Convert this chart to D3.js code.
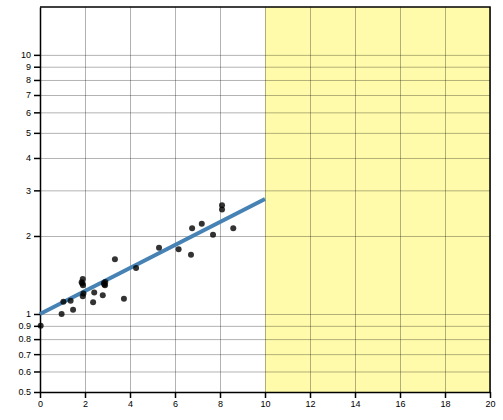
<!DOCTYPE html>
<html>
<head>
<meta charset="utf-8">
<script src="https://cdn.jsdelivr.net/npm/d3@7"></script>
<style>
  body { margin: 0; background: #fff; }
  svg { display: block; font-family: "DejaVu Sans", sans-serif; }
  .axis text { font-size: 9px; fill: #000; }
  .grid line { stroke: #000; stroke-opacity: 0.3; }
</style>
</head>
<body>
<div id="chart"></div>
<script>
// data
const xs = [0.03, 0.96, 1.04, 1.36, 1.47, 1.85, 1.9, 1.91, 1.93, 1.9, 1.88, 2.36, 2.41, 2.79, 2.84, 2.89, 2.9, 2.86, 3.33, 3.73, 4.27, 5.29, 6.16, 6.71, 6.76, 7.19, 7.69, 8.09, 8.09, 8.59];
const ys = [0.9, 1.0, 1.116, 1.125, 1.039, 1.325, 1.365, 1.29, 1.2, 1.17, 1.31, 1.11, 1.21, 1.18, 1.314, 1.29, 1.33, 1.3, 1.626, 1.146, 1.505, 1.8, 1.778, 1.694, 2.14, 2.23, 2.02, 2.63, 2.53, 2.14];
const fitX = [0, 10];
const fitY = [1, 2.78];
const shadeX = [10, 20];
const xTicks = [0, 2, 4, 6, 8, 10, 12, 14, 16, 18, 20];
const yTicks = [0.5, 0.6, 0.7, 0.8, 0.9, 1, 2, 3, 4, 5, 6, 7, 8, 9, 10];

const width = 503;
const height = 420;
const margin = { top: 7, right: 13, bottom: 28, left: 40 };

const svg = d3.select("#chart").append("svg")
  .attr("width", width)
  .attr("height", height);

const xScale = d3.scaleLinear().domain([0, 20]).range([margin.left, width - margin.right]);
const yScale = d3.scaleLog().domain([0.5, 15.3]).range([height - margin.bottom, margin.top]);

// shaded region
svg.append("rect")
  .attr("x", xScale(shadeX[0]))
  .attr("y", margin.top)
  .attr("width", xScale(shadeX[1]) - xScale(shadeX[0]))
  .attr("height", height - margin.bottom - margin.top)
  .attr("fill", "#fffbaa");

// grid
svg.append("g")
  .attr("class", "grid")
  .attr("transform", `translate(0, ${margin.top})`)
  .call(d3.axisBottom(xScale).tickValues(xTicks).tickSize(height - margin.bottom - margin.top).tickFormat(""))
  .call((g) => g.select(".domain").remove());

svg.append("g")
  .attr("class", "grid")
  .attr("transform", `translate(${margin.left}, 0)`)
  .call(d3.axisRight(yScale).tickValues(yTicks).tickSize(width - margin.right - margin.left).tickFormat(""))
  .call((g) => g.select(".domain").remove());

// frame
svg.append("path")
  .attr("d", `M${margin.left},${margin.top}H${width - margin.right}V${height - margin.bottom}`)
  .attr("fill", "none")
  .attr("stroke", "#000")
  .attr("stroke-width", 1.5);

// axes
svg.append("g")
  .attr("class", "axis")
  .attr("transform", `translate(0, ${height - margin.bottom})`)
  .call(d3.axisBottom(xScale).tickValues(xTicks).tickSize(6).tickSizeOuter(0).tickFormat(d3.format("d")))
  .call((g) => g.selectAll("path,line").attr("stroke-width", 1.5));

svg.append("g")
  .attr("class", "axis")
  .attr("transform", `translate(${margin.left}, 0)`)
  .call(d3.axisLeft(yScale).tickValues(yTicks).tickSize(6).tickSizeOuter(0).tickFormat((d) => d3.format("~g")(d)))
  .call((g) => g.selectAll("path,line").attr("stroke-width", 1.5));

// fit line
svg.append("line")
  .attr("x1", xScale(fitX[0]))
  .attr("y1", yScale(fitY[0]))
  .attr("x2", xScale(fitX[1]))
  .attr("y2", yScale(fitY[1]))
  .attr("stroke", "steelblue")
  .attr("stroke-width", 4);

// points
svg.append("g")
  .selectAll("circle")
  .data(xs.map((x, i) => [x, ys[i]]))
  .join("circle")
  .attr("cx", (d) => xScale(d[0]))
  .attr("cy", (d) => yScale(d[1]))
  .attr("r", 3)
  .attr("fill", "#000")
  .attr("fill-opacity", 0.8);
</script>
</body>
</html>
